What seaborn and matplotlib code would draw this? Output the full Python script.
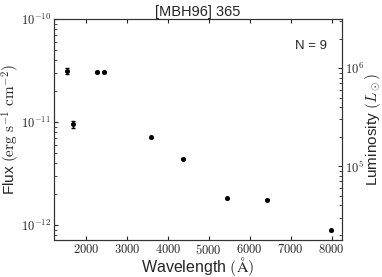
import matplotlib
matplotlib.use('Agg')
import matplotlib.pyplot as plt
import matplotlib.ticker as mticker
import numpy as np
import pandas as pd
import seaborn as sns

# photometry
wavelength = [1530, 1675, 2270, 2440, 3600, 4380, 5450, 6410, 7980]
flux = [3.15e-11, 9.5e-12, 3.05e-11, 3.05e-11, 7.1e-12, 4.4e-12, 1.82e-12, 1.75e-12, 8.9e-13]
flux_err = [0.22e-11, 0.07e-11, 0.08e-11, 0.08e-11, 0.1e-12, 0.05e-12, 0.02e-12, 0.02e-12, 0.01e-12]

title = '[MBH96] 365'
n_label = 'N = 9'

df = pd.DataFrame({'wavelength': wavelength, 'flux': flux, 'err': flux_err})

sns.set_style('ticks')
plt.rcParams['font.family'] = ['Liberation Sans', 'DejaVu Sans']
plt.rcParams['mathtext.fontset'] = 'cm'

fig, ax = plt.subplots(figsize=(3.82, 2.77), dpi=100)
fig.subplots_adjust(left=0.141, right=0.895, top=0.931, bottom=0.134)

ax.errorbar(df['wavelength'], df['flux'], yerr=df['err'], fmt='none',
            ecolor='black', elinewidth=1, capsize=1.5, capthick=1)
sns.scatterplot(data=df, x='wavelength', y='flux', ax=ax, color='black',
                s=13, edgecolor='black', linewidth=0, zorder=3)

ax.set_yscale('log')
ax.set_xlim(1220, 8250)
ax.set_ylim(10 ** -12.146, 1e-10)

log_fmt = mticker.FuncFormatter(lambda v, p: r'$10^{%d}$' % round(np.log10(v)))

ax.xaxis.set_major_locator(mticker.MultipleLocator(1000))
ax.xaxis.set_major_formatter(mticker.FuncFormatter(lambda v, p: r'$%d$' % v))
ax.yaxis.set_major_formatter(log_fmt)
ax.yaxis.set_minor_formatter(mticker.NullFormatter())
ax.tick_params(axis='both', which='both', direction='in', labelsize=9,
               top=True, right=False, pad=2)
ax.tick_params(which='major', length=3)
ax.tick_params(which='minor', length=2)
for s in ax.spines.values():
    s.set_linewidth(0.8)
    s.set_color('#333333')

ax.set_xlabel(r'Wavelength $(\mathrm{\AA})$', fontsize=11.5)
ax.set_ylabel(r'Flux $(\rm erg\ s^{-1}\ cm^{-2})$', fontsize=11)
ax.xaxis.set_label_coords(0.5, -0.07)
ax.yaxis.set_label_coords(-0.112, 0.5)
ax.set_title(title, fontsize=10.5, pad=1)
ax.text(0.95, 0.88, n_label, transform=ax.transAxes, ha='right', va='center',
        fontsize=9.5)

ax2 = ax.twinx()
ax2.set_yscale('log')
ax2.set_ylim(10 ** 4.25, 10 ** 6.5)
ax2.yaxis.set_major_formatter(log_fmt)
ax2.yaxis.set_minor_formatter(mticker.NullFormatter())
ax2.tick_params(axis='y', which='both', direction='in', labelsize=9, pad=2)
ax2.tick_params(which='major', length=3)
ax2.tick_params(which='minor', length=2)
ax2.set_ylabel(r'Luminosity $(L_\odot)$', fontsize=11)
ax2.yaxis.set_label_coords(1.075, 0.5)
for s in ax2.spines.values():
    s.set_linewidth(0.8)
    s.set_color('#333333')

fig.savefig('out.png', dpi=100)
